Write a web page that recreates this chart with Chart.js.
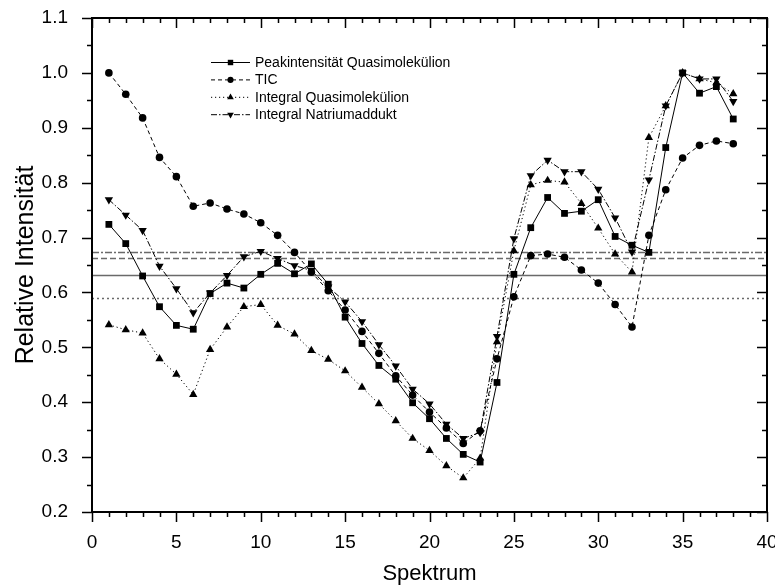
<!DOCTYPE html>
<html lang="de">
<head>
<meta charset="UTF-8">
<title>Relative Intensität</title>
<script src="https://cdn.jsdelivr.net/npm/chart.js"></script>
<style>
  body { margin: 0; background: #fff; }
  #grafico { display: block; }
</style>
</head>
<body>
<canvas id="grafico" width="775" height="587"></canvas>
<script>
  const spektren = [1, 2, 3, 4, 5, 6, 7, 8, 9, 10, 11, 12, 13, 14, 15, 16, 17, 18, 19, 20,
    21, 22, 23, 24, 25, 26, 27, 28, 29, 30, 31, 32, 33, 34, 35, 36, 37, 38];

  const peakQuasi = [0.724, 0.689, 0.630, 0.574, 0.540, 0.533, 0.598, 0.617, 0.608, 0.633,
    0.653, 0.634, 0.652, 0.615, 0.555, 0.507, 0.467, 0.442, 0.399, 0.370,
    0.334, 0.305, 0.291, 0.436, 0.633, 0.718, 0.773, 0.744, 0.748, 0.769,
    0.702, 0.686, 0.673, 0.864, 1.000, 0.963, 0.975, 0.916];

  const tic = [1.000, 0.961, 0.918, 0.846, 0.811, 0.757, 0.763, 0.752, 0.743, 0.727,
    0.704, 0.673, 0.637, 0.603, 0.568, 0.529, 0.489, 0.448, 0.413, 0.382,
    0.353, 0.325, 0.348, 0.479, 0.592, 0.667, 0.670, 0.664, 0.641, 0.617,
    0.578, 0.537, 0.704, 0.787, 0.845, 0.868, 0.876, 0.871];

  const integralQuasi = [0.541, 0.532, 0.526, 0.479, 0.451, 0.414, 0.496, 0.537, 0.574, 0.578,
    0.540, 0.524, 0.494, 0.478, 0.457, 0.427, 0.397, 0.366, 0.334, 0.312,
    0.284, 0.262, 0.298, 0.510, 0.676, 0.796, 0.804, 0.801, 0.762, 0.717,
    0.670, 0.637, 0.882, 0.940, 1.000, 0.989, 0.982, 0.962];

  const integralNatrium = [0.769, 0.741, 0.713, 0.648, 0.607, 0.563, 0.599, 0.631, 0.665, 0.675,
    0.662, 0.649, 0.640, 0.610, 0.583, 0.547, 0.505, 0.466, 0.424, 0.397,
    0.360, 0.334, 0.345, 0.520, 0.698, 0.813, 0.841, 0.820, 0.820, 0.788,
    0.736, 0.674, 0.805, 0.940, 1.000, 0.989, 0.989, 0.948];

  // Mittelwerte (horizontale Linien), gleiche Reihenfolge wie die Serien
  const mittelwerte = [0.631, 0.662, 0.589, 0.673];

  const xTicks = { min: 0, max: 40, schritt: 5 };
  const yTicks = { min: 0.2, max: 1.1, schritt: 0.1 };

  const schrift = '"Liberation Sans", Arial, sans-serif';
  const striche = [[], [4, 3], [1.2, 2.8], [6, 2, 1.5, 2]];
  const mittelStriche = [[], [6, 3], [2, 3], [7, 2, 2, 2]];

  function punkte(werte) {
    return spektren.map((s, i) => ({ x: s, y: werte[i] }));
  }

  function serie(label, werte, stil, rotation, radius, i) {
    return {
      label: label,
      data: punkte(werte),
      borderColor: '#000',
      backgroundColor: '#000',
      borderWidth: 1,
      borderDash: striche[i],
      pointStyle: stil,
      pointRotation: rotation,
      pointRadius: radius,
      pointBackgroundColor: '#000',
      pointBorderColor: '#000',
      pointBorderWidth: 0,
      tension: 0
    };
  }

  const rahmen = {
    id: 'rahmen',
    beforeDatasetsDraw(chart) {
      const { ctx, chartArea: a, scales: { y } } = chart;
      ctx.save();
      mittelwerte.forEach((w, i) => {
        const py = Math.round(y.getPixelForValue(w)) + 0.5;
        ctx.strokeStyle = '#6a6a6a';
        ctx.lineWidth = 1.5;
        ctx.setLineDash(mittelStriche[i]);
        ctx.beginPath();
        ctx.moveTo(a.left, py);
        ctx.lineTo(a.right, py);
        ctx.stroke();
      });
      ctx.restore();
    },
    afterDraw(chart) {
      const { ctx, chartArea: a, scales: { x, y } } = chart;
      ctx.save();
      ctx.strokeStyle = '#000';
      ctx.lineWidth = 1.5;
      ctx.setLineDash([]);
      ctx.beginPath();
      for (let v = xTicks.min; v <= xTicks.max; v++) {
        const px = Math.round(x.getPixelForValue(v)) + 0.5;
        const len = v % xTicks.schritt === 0 ? 10 : 5;
        ctx.moveTo(px, a.bottom); ctx.lineTo(px, a.bottom + len);
        ctx.moveTo(px, a.top); ctx.lineTo(px, a.top + len);
      }
      for (let k = Math.round(yTicks.min * 20); k <= Math.round(yTicks.max * 20); k++) {
        const py = Math.round(y.getPixelForValue(k / 20)) + 0.5;
        const len = k % 2 === 0 ? 10 : 5;
        ctx.moveTo(a.left, py); ctx.lineTo(a.left - len, py);
        ctx.moveTo(a.right, py); ctx.lineTo(a.right - len, py);
      }
      ctx.stroke();
      ctx.lineWidth = 2;
      ctx.strokeRect(a.left, a.top, a.right - a.left, a.bottom - a.top);

      // Legende
      ctx.font = '14px ' + schrift;
      ctx.textBaseline = 'middle';
      ctx.fillStyle = '#000';
      chart.data.datasets.forEach((ds, i) => {
        const ly = 62.5 + i * 17.4;
        ctx.lineWidth = 1;
        ctx.setLineDash(ds.borderDash);
        ctx.beginPath();
        ctx.moveTo(211, ly);
        ctx.lineTo(250, ly);
        ctx.stroke();
        ctx.setLineDash([]);
        Chart.helpers.drawPoint(ctx, {
          pointStyle: ds.pointStyle,
          rotation: ds.pointRotation,
          radius: ds.pointRadius * 0.8,
          borderWidth: 0
        }, 230.5, ly);
        ctx.fillText(ds.label, 255, ly + 0.5);
      });
      ctx.restore();
    }
  };

  const config = {
    type: 'line',
    data: {
      datasets: [
        serie('Peakintensität Quasimolekülion', peakQuasi, 'rect', 0, 4.8, 0),
        serie('TIC', tic, 'circle', 0, 3.8, 1),
        serie('Integral Quasimolekülion', integralQuasi, 'triangle', 0, 4.8, 2),
        serie('Integral Natriumaddukt', integralNatrium, 'triangle', 180, 4.8, 3)
      ]
    },
    options: {
      responsive: false,
      animation: false,
      devicePixelRatio: 1,
      layout: { padding: { top: 18, right: 8, left: 0, bottom: 0 } },
      plugins: {
        legend: { display: false },
        tooltip: { enabled: false }
      },
      scales: {
        x: {
          type: 'linear',
          min: xTicks.min,
          max: xTicks.max,
          grid: { display: false },
          border: { display: false },
          ticks: {
            stepSize: xTicks.schritt,
            padding: 11,
            maxRotation: 0,
            color: '#000',
            font: { family: schrift, size: 19 }
          },
          title: {
            display: true,
            text: 'Spektrum',
            color: '#000',
            font: { family: schrift, size: 22 },
            padding: { top: 4, bottom: 0 }
          },
          afterFit(scale) {
            scale.height = 75;
            scale.paddingLeft = 0;
            scale.paddingRight = 0;
          }
        },
        y: {
          min: yTicks.min,
          max: yTicks.max,
          grid: { display: false },
          border: { display: false },
          ticks: {
            stepSize: yTicks.schritt,
            padding: 16,
            color: '#000',
            font: { family: schrift, size: 19 },
            callback: v => v.toFixed(1)
          },
          title: {
            display: true,
            text: 'Relative Intensität',
            color: '#000',
            font: { family: schrift, size: 25 },
            padding: { top: 11, bottom: 0 }
          },
          afterFit(scale) {
            scale.width = 92;
            scale.paddingTop = 0;
            scale.paddingBottom = 0;
          }
        }
      }
    },
    plugins: [rahmen]
  };

  const grafico = new Chart(document.getElementById('grafico'), config);
</script>
</body>
</html>
